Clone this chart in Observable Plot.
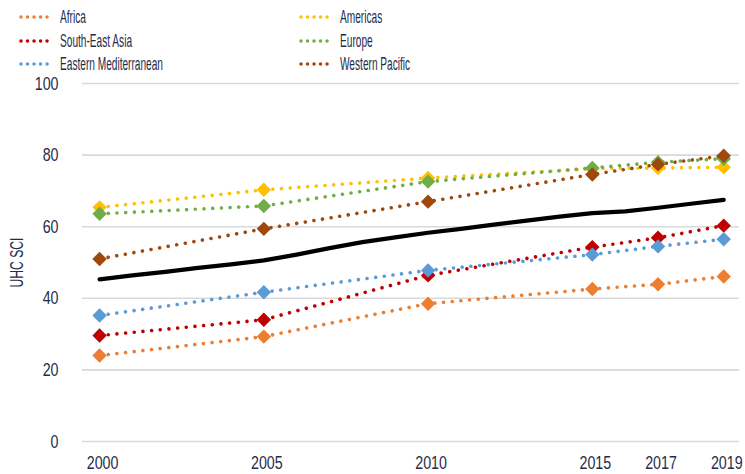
<!DOCTYPE html>
<html>
<head>
<meta charset="utf-8">
<script src="https://cdn.jsdelivr.net/npm/d3@7"></script>
<script src="https://cdn.jsdelivr.net/npm/@observablehq/plot@0.6"></script>
<style>
  html, body { margin: 0; padding: 0; background: #fff; }
  body { width: 745px; height: 474px; overflow: hidden; font-family: "Liberation Sans", Arial, sans-serif; }
  #legend { position: relative; width: 745px; height: 72px; }
  .item { position: absolute; height: 22px; display: flex; align-items: center; font-size: 19px; color: #1f2c4c; white-space: nowrap; }
  .item svg { margin-right: 5px; flex: none; }
  .item span { display: inline-block; transform-origin: 0 50%; }
</style>
</head>
<body>
<div id="legend"></div>
<div id="chart"></div>
<script>
// ---- data ----
const years = [2000, 2005, 2010, 2015, 2017, 2019];
const seriesNames = ["Africa", "Americas", "South-East Asia", "Europe", "Eastern Mediterranean", "Western Pacific"];
const seriesColors = ["#ED7D31", "#FFC000", "#C00000", "#70AD47", "#5B9BD5", "#9E480E"];
const africa      = [24.0, 29.3, 38.5, 42.6, 43.9, 46.1];
const americas    = [65.4, 70.3, 73.6, 76.2, 76.4, 76.6];
const seAsia      = [29.6, 34.0, 46.4, 54.3, 56.9, 60.3];
const europe      = [63.6, 65.8, 72.6, 76.4, 78.0, 79.0];
const eastMed     = [35.2, 41.7, 47.8, 52.2, 54.5, 56.5];
const westPacific = [51.0, 59.4, 67.0, 74.6, 77.4, 79.8];
const globalYears  = [2000, 2001, 2002, 2003, 2004, 2005, 2006, 2007, 2008, 2009, 2010, 2011, 2012, 2013, 2014, 2015, 2016, 2017, 2018, 2019];
const globalValues = [45.3, 46.4, 47.4, 48.5, 49.5, 50.6, 52.2, 54.0, 55.7, 57.0, 58.3, 59.4, 60.6, 61.7, 62.8, 63.8, 64.3, 65.3, 66.4, 67.5];
const yTicks = [0, 20, 40, 60, 80, 100];
const yLabel = "UHC SCI";

const seriesValues = [africa, americas, seAsia, europe, eastMed, westPacific];
const rows = [];
seriesNames.forEach((name, i) => {
  years.forEach((yr, j) => rows.push({series: name, year: yr, value: seriesValues[i][j]}));
});
const globalRows = globalYears.map((yr, i) => ({year: yr, value: globalValues[i]}));

// condensed look: measure the installed font and squeeze horizontally
const FONT = '"Liberation Sans", Arial, sans-serif';
const ctx = document.createElement("canvas").getContext("2d");
const wOf = (s, px) => { ctx.font = px + "px " + FONT; return ctx.measureText(s).width; };
const fLegend = Math.min(1, 103 / wOf("Eastern Mediterranean", 19));
const fDigits = Math.min(1, 31.7 / wOf("2000", 19));
const fLabel = Math.min(1, 50 / wOf(yLabel, 19));

// ---- legend (HTML) ----
const legend = document.getElementById("legend");
const legendPos = [[19, 6], [299, 6], [19, 30], [299, 30], [19, 53], [299, 53]];
seriesNames.forEach((name, i) => {
  const div = document.createElement("div");
  div.className = "item";
  div.style.left = legendPos[i][0] + "px";
  div.style.top = legendPos[i][1] + "px";
  div.innerHTML = `<svg width="36" height="10"><line x1="2" y1="5" x2="34" y2="5" stroke="${seriesColors[i]}" stroke-width="3.5" stroke-linecap="round" stroke-dasharray="0.01 6.5"/></svg><span style="transform: scaleX(${fLegend})">${name}</span>`;
  legend.appendChild(div);
});

// ---- chart ----
const chart = Plot.plot({
  width: 745,
  height: 402,
  marginLeft: 82,
  marginRight: 6,
  marginTop: 11,
  marginBottom: 33,
  style: {fontFamily: FONT, fontSize: "19px", color: "#1f2c4c", background: "#fff"},
  x: {domain: [1999.48, 2019.48], axis: null},
  y: {domain: [0, 100], axis: null},
  marks: [
    Plot.gridY(yTicks, {stroke: "#d9d9d9", strokeOpacity: 1, strokeWidth: 1.6}),
    Plot.axisY(yTicks, {tickSize: 0, tickPadding: 24, fontSize: 19, fill: "#1f2c4c", label: null, className: "ytk"}),
    Plot.axisX(years, {tickSize: 0, tickPadding: 14, dx: 3, fontSize: 19, fill: "#1f2c4c", label: null, tickFormat: d => String(d), className: "xtk"}),
    Plot.text([yLabel], {frameAnchor: "left", rotate: -90, dx: -66, fontSize: 19, fill: "#1f2c4c", textAnchor: "middle", lineAnchor: "middle", className: "ylab"}),
    Plot.line(globalRows, {x: "year", y: "value", stroke: "#000", strokeWidth: 4.2, strokeLinejoin: "round"}),
    ...seriesNames.flatMap((name, i) => {
      const data = rows.filter(r => r.series === name);
      return [
        Plot.line(data, {x: "year", y: "value", stroke: seriesColors[i], strokeWidth: 3.6, strokeLinecap: "round", strokeDasharray: "0.01 8.7"}),
        Plot.dot(data, {x: "year", y: "value", symbol: "diamond2", r: 6.5, fill: seriesColors[i], stroke: "none"})
      ];
    })
  ]
});
const squeeze = (sel, f) => chart.querySelectorAll(sel).forEach(t => {
  const tr = t.getAttribute("transform") || "";
  t.setAttribute("transform", tr + ` scale(${f},1)`);
});
squeeze(".ytk text, .xtk text", fDigits);
squeeze(".ylab text", fLabel);
document.getElementById("chart").appendChild(chart);
</script>
</body>
</html>
